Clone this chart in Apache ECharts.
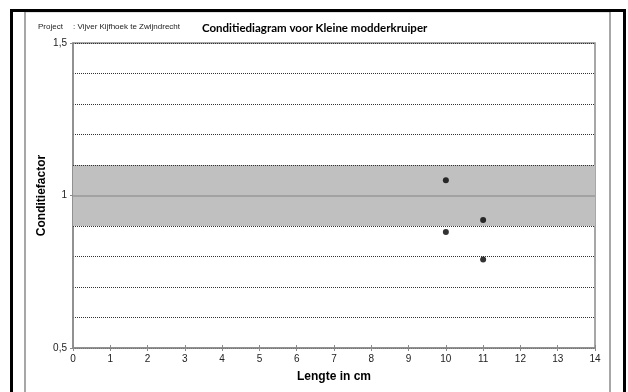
<!DOCTYPE html>
<html>
<head>
<meta charset="utf-8">
<script src="https://cdn.jsdelivr.net/npm/echarts@6/dist/echarts.min.js"></script>
<style>
  html, body { margin: 0; padding: 0; background: #fff; }
  #chart { width: 628px; height: 392px; }
</style>
</head>
<body>
<div id="chart"></div>
<script>
// Lengte (cm) en conditiefactor per gevangen vis
const lengths = [10, 10, 11, 11];
const condition = [1.05, 0.88, 0.92, 0.79];

// Asbereik en labels
const xTicks = [0, 1, 2, 3, 4, 5, 6, 7, 8, 9, 10, 11, 12, 13, 14];
const yLabelValues = [0.5, 1, 1.5];
const normalBand = [0.9, 1.1];
const referenceLine = 1.0;

const projectLabel = 'Project';
const projectName = ': Vijver Kijfhoek te Zwijndrecht';
const titleText = 'Conditiediagram voor Kleine modderkruiper';

const chart = echarts.init(document.getElementById('chart'), null, { renderer: 'canvas' });

const axisFont = { fontFamily: 'Liberation Sans', fontSize: 10, color: '#222' };
const gridLine = { color: '#333', width: 1, type: [1, 1] };

const yLabel = v => {
  for (const t of yLabelValues) {
    if (Math.abs(v - t) < 1e-6) return String(t).replace('.', ',');
  }
  return '';
};

chart.setOption({
  animation: false,
  backgroundColor: '#fff',
  grid: { left: 73, right: 33, top: 43, bottom: 44, show: true, borderColor: '#8a8a8a', borderWidth: 1.5, backgroundColor: 'transparent' },
  graphic: [
    { type: 'polyline', shape: { points: [[25, 400], [25, 11.5], [610, 11.5], [610, 400]] },
      style: { stroke: '#8a8a8a', lineWidth: 1.5, fill: null }, z: 10 },
    { type: 'polyline', shape: { points: [[11.5, 400], [11.5, 10.5], [624.5, 10.5], [624.5, 400]] },
      style: { stroke: '#000', lineWidth: 3, fill: null }, z: 11 },
    { type: 'text', left: 38, top: 23,
      style: { text: projectLabel, font: '8px "Liberation Sans"', fill: '#222' } },
    { type: 'text', left: 73, top: 23,
      style: { text: projectName, font: '8px "Liberation Sans"', fill: '#222' } },
    { type: 'text', left: 202, top: 22,
      style: { text: titleText, font: 'bold 11.5px "Lato"', fill: '#000' } }
  ],
  xAxis: [
    {
      type: 'value', min: xTicks[0], max: xTicks[xTicks.length - 1], interval: 1,
      name: 'Lengte in cm', nameLocation: 'middle', nameGap: 23,
      nameTextStyle: { fontFamily: 'Liberation Sans', fontSize: 12, fontWeight: 'bold', color: '#000' },
      axisLine: { show: true, lineStyle: { color: '#8a8a8a', width: 1.5 } },
      axisTick: { show: true, length: 3, lineStyle: { color: '#8a8a8a' } },
      axisLabel: Object.assign({ margin: 6 }, axisFont),
      splitLine: { show: false }
    },
    {
      type: 'value', min: xTicks[0], max: xTicks[xTicks.length - 1], interval: 1, position: 'bottom',
      axisLine: { show: false },
      axisTick: { show: true, inside: true, length: 3, lineStyle: { color: '#8a8a8a' } },
      axisLabel: { show: false },
      splitLine: { show: false }
    }
  ],
  yAxis: [
    {
      type: 'value', min: 0.5, max: 1.5, interval: 0.5,
      name: 'Conditiefactor', nameLocation: 'middle', nameGap: 25, nameMoveOverlap: false,
      nameTextStyle: { fontFamily: 'Liberation Sans', fontSize: 12, fontWeight: 'bold', color: '#000' },
      axisLine: { show: true, lineStyle: { color: '#8a8a8a', width: 1.5 } },
      axisTick: { show: true, length: 3, lineStyle: { color: '#8a8a8a' } },
      axisLabel: Object.assign({ margin: 6, formatter: yLabel }, axisFont),
      splitLine: { show: false }
    },
    {
      type: 'value', min: 0.5, max: 1.5, interval: 0.1, position: 'left',
      axisLine: { show: false }, axisTick: { show: false }, axisLabel: { show: false },
      splitLine: { show: true, lineStyle: gridLine }
    }
  ],
  series: [
    {
      type: 'scatter',
      xAxisIndex: 0, yAxisIndex: 0,
      data: lengths.map((l, i) => [l, condition[i]]),
      symbol: 'circle', symbolSize: 6,
      itemStyle: { color: '#000' },
      z: 5,
      markArea: {
        silent: true,
        itemStyle: { color: '#c0c0c0' },
        data: [[{ yAxis: normalBand[0] }, { yAxis: normalBand[1] }]]
      },
      markLine: {
        silent: true, symbol: 'none', label: { show: false },
        data: [
          { yAxis: normalBand[0], lineStyle: gridLine },
          { yAxis: normalBand[1], lineStyle: gridLine },
          { yAxis: referenceLine, lineStyle: { color: '#999', width: 1.5, type: 'solid' } }
        ]
      }
    }
  ]
});
</script>
</body>
</html>
